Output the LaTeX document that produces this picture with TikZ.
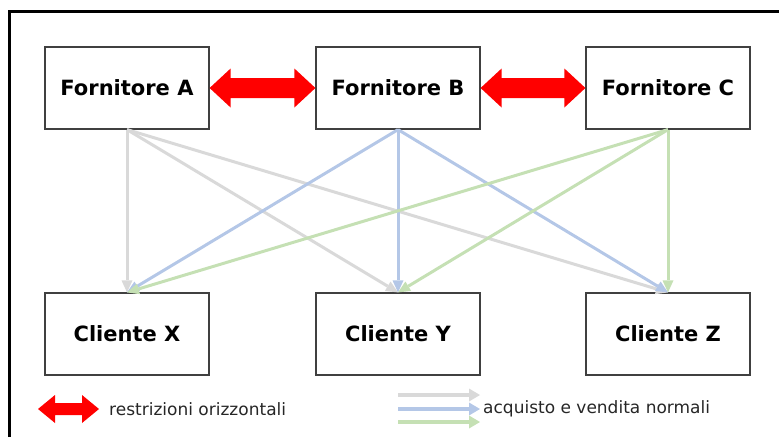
\documentclass[tikz,border=0pt]{standalone}
\usepackage{fontspec}
\setmainfont{DejaVu Sans}
\usetikzlibrary{arrows.meta,calc}

\definecolor{linkgray}{HTML}{D9D9D9}
\definecolor{linkblue}{HTML}{B4C7E7}
\definecolor{linkgreen}{HTML}{C5E0B4}
\definecolor{boxline}{HTML}{404040}

\tikzset{
 box/.style={draw=boxline, line width=1.2pt, minimum width=164pt,
  minimum height=82pt, inner sep=0pt,
  font=\fontsize{21}{25}\selectfont\bfseries},
 link/.style={line width=3pt, -{Triangle[length=12pt,width=11pt,line width=0pt]}},
 legendtext/.style={anchor=west, inner sep=0pt, text=black!85,
  font=\fontsize{17}{20}\selectfont}
}

% from, to, head length, half head width, half shaft width
\newcommand\dblarrow[5]{%
 \fill[red] let \p1=(#1), \p2=(#2), \n1={\x2-\x1-2*#3} in
  (\p1) -- ++(#3,#4) -- ++(0,#5-#4) -- ++(\n1,0) -- ++(0,#4-#5)
  -- ++(#3,-#4) -- ++(-#3,-#4) -- ++(0,#4-#5) -- ++(-\n1,0)
  -- ++(0,#5-#4) -- cycle;}

\def\top{88}
\def\bot{334}

\begin{document}
\begin{tikzpicture}[x=1pt,y=-1pt]
 \useasboundingbox (0,0) rectangle (779,437);
 % frame
 \draw[line width=3pt] (9.5,437) -- (9.5,11) -- (779,11);
 % suppliers
 \node[box] (fa) at (127,\top) {Fornitore A};
 \node[box] (fb) at (398,\top) {Fornitore B};
 \node[box] (fc) at (668,\top) {Fornitore C};
 % clients
 \node[box] (cx) at (127,\bot) {Cliente X};
 \node[box] (cy) at (398,\bot) {Cliente Y};
 \node[box] (cz) at (668,\bot) {Cliente Z};
 % normal links
 \foreach \src/\col in {fa/linkgray,fb/linkblue,fc/linkgreen}
  \foreach \dst in {cx,cy,cz}
   \draw[link,\col] (\src.south) -- (\dst.north);
 % horizontal restrictions
 \dblarrow{fa.east}{fb.west}{21}{19.5}{10}
 \dblarrow{fb.east}{fc.west}{21}{19.5}{10}
 % legend
 \coordinate (ra) at (38,409);
 \coordinate (rb) at (99,409);
 \dblarrow{ra}{rb}{17}{14}{6}
 \node[legendtext] (lr) at (109,409) {restrizioni orizzontali};
 \foreach \col/\y/\n in {linkgray/395/g,linkblue/409/b,linkgreen/422/v} {
  \coordinate (l\n a) at (398,\y);
  \coordinate (l\n b) at (480,\y);
  \draw[line width=4pt, \col, -{Triangle[length=11pt,width=13pt,line width=0pt]}]
   (l\n a) -- (l\n b);
 }
 \node[legendtext] (ln) at (483,409) {acquisto e vendita normali};
\end{tikzpicture}
\end{document}
